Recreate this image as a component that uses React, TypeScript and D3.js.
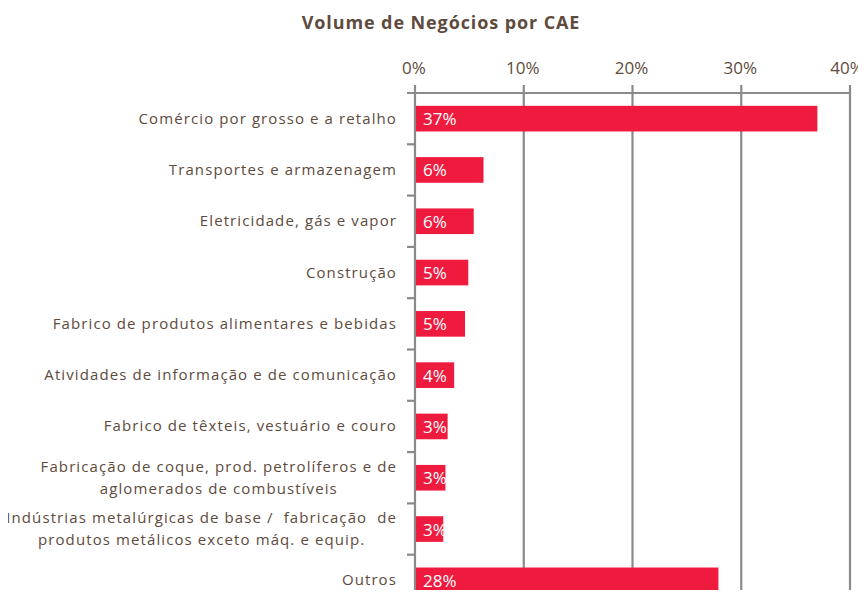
import React, { useEffect, useRef } from 'react';
import * as d3 from 'd3';

const categories = [
  ['Comércio por grosso e a retalho'],
  ['Transportes e armazenagem'],
  ['Eletricidade, gás e vapor'],
  ['Construção'],
  ['Fabrico de produtos alimentares e bebidas'],
  ['Atividades de informação e de comunicação'],
  ['Fabrico de têxteis, vestuário e couro'],
  ['Fabricação de coque, prod. petrolíferos e de', 'aglomerados de combustíveis'],
  ['Indústrias metalúrgicas de base /  fabricação  de', 'produtos metálicos exceto máq. e equip.'],
  ['Outros'],
];
const values = [37.0, 6.3, 5.4, 4.9, 4.6, 3.6, 3.0, 2.8, 2.6, 27.9];
const valueLabels = ['37%', '6%', '6%', '5%', '5%', '4%', '3%', '3%', '3%', '28%'];
const xTicks = [0, 10, 20, 30, 40];

const W = 866;
const H = 598;
const textColor = '#5e4b3d';
const gridColor = '#8a8a8a';
const barColor = '#ee1b3e';
const font = "'Open Sans', sans-serif";

export default function App() {
  const ref = useRef<SVGSVGElement>(null);

  useEffect(() => {
    const svg = d3.select(ref.current);
    svg.selectAll('*').remove();

    const x = d3.scaleLinear().domain([0, 40]).range([415, 850]);
    const y = d3.scaleBand<number>().domain(d3.range(categories.length)).range([93, 606]).paddingInner(0.5).paddingOuter(0.25);
    const step = y.step();

    svg.append('text')
      .attr('x', 441).attr('y', 29)
      .attr('text-anchor', 'middle')
      .style('font-family', font).style('font-size', '18px').style('font-weight', 700)
      .style('letter-spacing', '0.9px')
      .style('fill', textColor)
      .text('Volume de Negócios por CAE');

    // vertical gridlines
    svg.append('g').selectAll('line').data(xTicks).join('line')
      .attr('x1', d => x(d)).attr('x2', d => x(d))
      .attr('y1', 85).attr('y2', H)
      .attr('stroke', gridColor).attr('stroke-width', 2.2);

    // top axis line
    svg.append('line')
      .attr('x1', 407).attr('x2', x(40)).attr('y1', 93).attr('y2', 93)
      .attr('stroke', gridColor).attr('stroke-width', 2.2);

    // category boundary ticks on the y axis
    svg.append('g').selectAll('line').data(d3.range(1, categories.length)).join('line')
      .attr('x1', 407).attr('x2', x(0))
      .attr('y1', i => 93 + i * step).attr('y2', i => 93 + i * step)
      .attr('stroke', gridColor).attr('stroke-width', 2.2);

    svg.append('g').selectAll('text').data(xTicks).join('text')
      .attr('x', d => Math.min(x(d) - 1, 847)).attr('y', 74)
      .attr('text-anchor', 'middle')
      .style('font-family', font).style('font-size', '17px')
      .style('fill', textColor)
      .text(d => `${d}%`);

    svg.append('g').selectAll('rect').data(values).join('rect')
      .attr('x', x(0) + 1).attr('y', (_, i) => y(i)!)
      .attr('width', d => x(d) - x(0) - 1).attr('height', y.bandwidth())
      .attr('fill', barColor);

    svg.append('g').selectAll('text').data(valueLabels).join('text')
      .attr('x', x(0) + 8).attr('y', (_, i) => y(i)! + y.bandwidth() / 2 + 6.5)
      .style('font-family', font).style('font-size', '17px')
      .style('fill', '#ffffff')
      .text(d => d);

    const labels = svg.append('g');
    categories.forEach((lines, i) => {
      const cy = y(i)! + y.bandwidth() / 2;
      const lh = 22;
      const texts = lines.map((ln, k) =>
        labels.append('text')
          .attr('y', cy + 5 + (k - (lines.length - 1) / 2) * lh)
          .style('font-family', font).style('font-size', '15px')
          .style('letter-spacing', '1.1px')
          .style('fill', textColor)
          .style('white-space', 'pre')
          .attr('text-anchor', 'middle')
          .text(ln));
      const widths = texts.map(t => (t.node() as SVGTextElement).getComputedTextLength());
      const maxW = d3.max(widths) || 0;
      texts.forEach(t => t.attr('x', 397 - maxW / 2));
    });
  }, []);

  return (
    <div style={{ margin: -8, width: W, height: H, background: '#fff', overflow: 'hidden' }}>
      <svg ref={ref} width={W} height={H} />
    </div>
  );
}
